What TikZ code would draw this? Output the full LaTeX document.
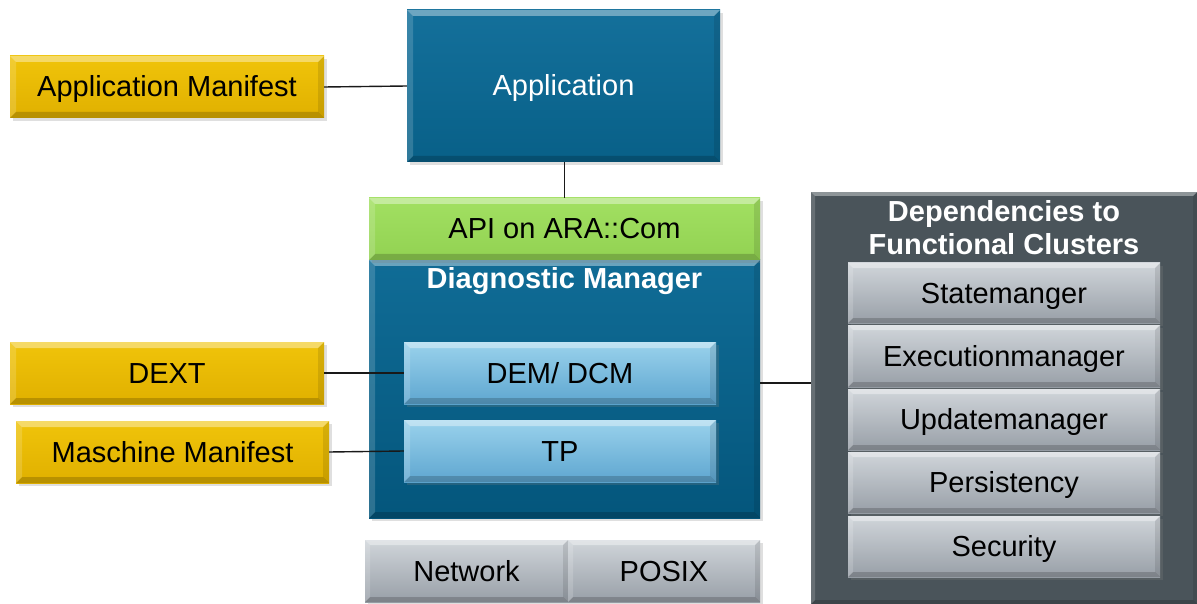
\documentclass[tikz,border=0pt]{standalone}
\usepackage{fontspec}
\setmainfont{Liberation Sans}
\usetikzlibrary{shadows}
\definecolor{goldtop}{RGB}{240,196,10}
\definecolor{goldbot}{RGB}{224,176,0}
\definecolor{bluetop}{RGB}{20,112,155}
\definecolor{bluebot}{RGB}{8,96,136}
\definecolor{dmtop}{RGB}{16,108,150}
\definecolor{dmbot}{RGB}{4,86,124}
\definecolor{greentop}{RGB}{162,224,98}
\definecolor{greenbot}{RGB}{146,210,82}
\definecolor{ltbluetop}{RGB}{154,210,236}
\definecolor{ltbluebot}{RGB}{94,166,208}
\definecolor{greytop}{RGB}{208,213,218}
\definecolor{greybot}{RGB}{152,159,167}
\definecolor{panel}{RGB}{74,84,90}
\definecolor{conn}{RGB}{25,25,25}
\tikzset{
  bevel/.style={path picture={
    \path (path picture bounding box.north west) coordinate (bnw)
          (path picture bounding box.north east) coordinate (bne)
          (path picture bounding box.south west) coordinate (bsw)
          (path picture bounding box.south east) coordinate (bse);
    \fill[white,opacity=.38] (bnw) -- (bne) -- ([shift={(-#1,-#1)}]bne) -- ([shift={(#1,-#1)}]bnw) -- cycle;
    \fill[black,opacity=.18] (bsw) -- (bse) -- ([shift={(-#1,#1)}]bse) -- ([shift={(#1,#1)}]bsw) -- cycle;
    \fill[white,opacity=.16] (bnw) -- (bsw) -- ([shift={(#1,#1)}]bsw) -- ([shift={(#1,-#1)}]bnw) -- cycle;
    \fill[black,opacity=.10] (bne) -- (bse) -- ([shift={(-#1,#1)}]bse) -- ([shift={(-#1,-#1)}]bne) -- cycle;
  }},
  bevel/.default=6pt,
  basebox/.style={rectangle, inner sep=0pt, align=center,
    font=\fontsize{29}{34}\selectfont, text height=26pt, text depth=6pt,
    drop shadow={opacity=.25, shadow xshift=3pt, shadow yshift=-3pt}},
  goldbox/.style={basebox, top color=goldtop, bottom color=goldbot, bevel=6pt,
    minimum width=314pt, minimum height=62pt, text=black},
  bluebox/.style={basebox, top color=bluetop, bottom color=bluebot, bevel=6pt, text=white},
  greenbox/.style={basebox, top color=greentop, bottom color=greenbot, bevel=6pt, text=black},
  ltbluebox/.style={basebox, top color=ltbluetop, bottom color=ltbluebot, bevel=6pt,
    minimum width=312pt, minimum height=62pt, text=black},
  greybox/.style={basebox, top color=greytop, bottom color=greybot, bevel=5pt, text=black},
  panelbox/.style={basebox, fill=panel, bevel=4pt},
  titletext/.style={inner sep=0pt, align=center, text=white,
    font=\fontsize{29}{33}\selectfont\bfseries},
  conline/.style={draw=conn, line width=1.4pt},
}
\begin{document}
\begin{tikzpicture}[x=1pt,y=-1pt]
\useasboundingbox[fill=white] (0,0) rectangle (1197,604);

% right panel
\node[panelbox, minimum width=386pt, minimum height=412pt] (dep) at (1004,398) {};
\node[titletext] (deptitle) at (1004,228) {Dependencies to\\Functional Clusters};
\node[greybox, minimum width=312pt, minimum height=60pt] (state) at (1004,293) {Statemanger};
\node[greybox, minimum width=312pt, minimum height=62pt] (exec) at (1004,356) {Executionmanager};
\node[greybox, minimum width=312pt, minimum height=61pt] (upd) at (1004,419.5) {Updatemanager};
\node[greybox, minimum width=312pt, minimum height=61pt] (pers) at (1004,482.5) {Persistency};
\node[greybox, minimum width=312pt, minimum height=61pt] (sec) at (1004,546.5) {Security};

% application column
\node[bluebox, minimum width=313pt, minimum height=152pt] (app) at (563.5,86) {Application};
\node[bluebox, top color=dmtop, bottom color=dmbot, minimum width=391pt, minimum height=258pt] (dm) at (564.5,389) {};
\node[greenbox, minimum width=391pt, minimum height=62pt] (api) at (564.5,229) {API on ARA::Com};
\node[titletext] (dmtitle) at (564.5,281) {Diagnostic Manager};
\node[ltbluebox] (dem) at (560,373) {DEM/ DCM};
\node[ltbluebox] (tp) at (560,451) {TP};

\node[greybox, minimum width=203pt, minimum height=62pt] (net) at (466.5,571) {Network};
\node[greybox, minimum width=192pt, minimum height=62pt] (posix) at (664,571) {POSIX};

% manifests
\node[goldbox] (am) at (167,87) {Application Manifest};
\node[goldbox] (dext) at (167,373) {DEXT};
\node[goldbox, minimum width=313pt] (mm) at (172.5,452) {Maschine Manifest};

% connectors
\draw[conline] (am.east) -- (app.west);
\draw[conline] (app.south -| api.north) -- (api.north);
\draw[conline] (dext.east) -- (dem.west);
\draw[conline] (mm.east) -- (tp.west);
\draw[conline] ([yshift=6pt]dm.east) -- ([yshift=6pt]dm.east -| dep.west);
\end{tikzpicture}
\end{document}
